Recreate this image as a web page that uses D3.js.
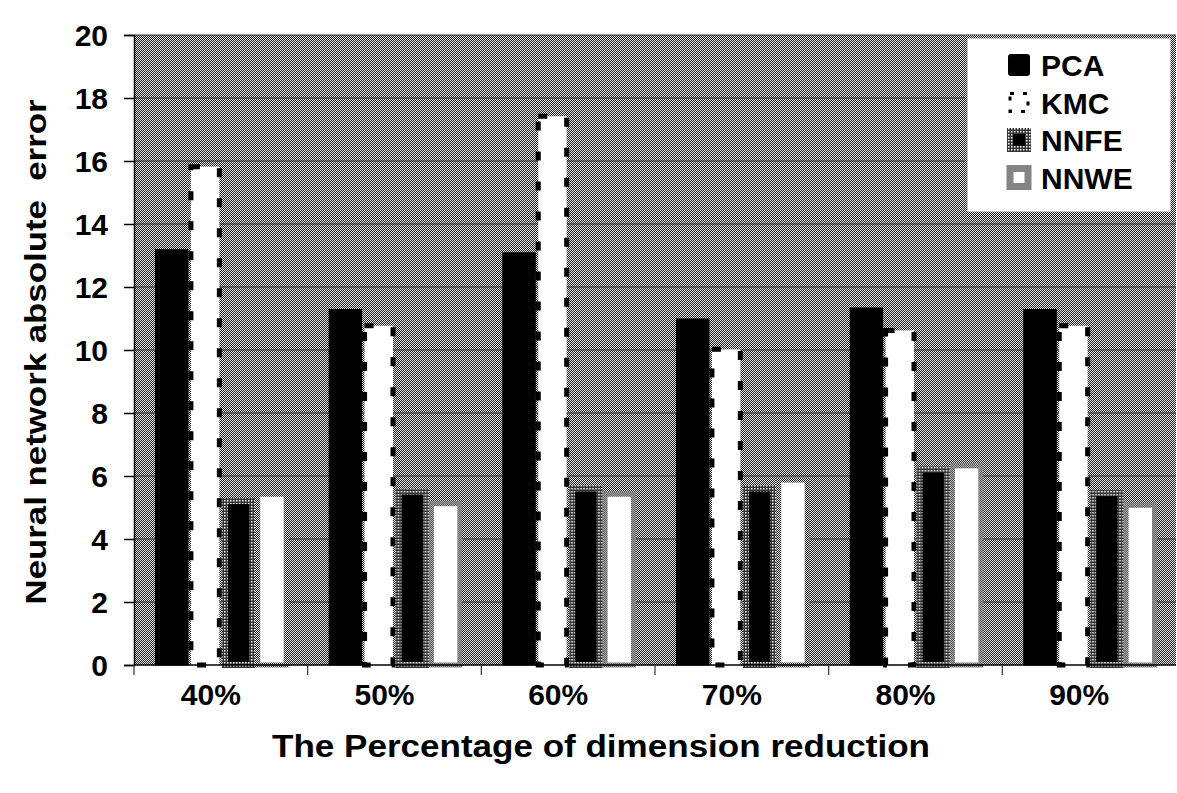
<!DOCTYPE html>
<html lang="en">
<head>
    <meta charset="UTF-8">
    <title>Neural network absolute error by dimension reduction</title>
    <script src="https://d3js.org/d3.v7.min.js"></script>
    <style>
        body { margin: 0; background: #fff; }
        text { font-family: "Liberation Sans", Arial, sans-serif; font-weight: bold; fill: #000; }
    </style>
</head>
<body>
    <svg width="1177" height="793"></svg>
    <script>
        // data
        const categories = ["40%", "50%", "60%", "70%", "80%", "90%"];
        const seriesNames = ["PCA", "KMC", "NNFE", "NNWE"];
        const pcaValues  = [13.2, 11.3, 13.1, 11.0, 11.35, 11.3];
        const kmcValues  = [15.9, 10.85, 17.5, 10.1, 10.7, 10.85];
        const nnfeValues = [5.3, 5.6, 5.7, 5.7, 6.3, 5.55];
        const nnweValues = [5.5, 5.2, 5.5, 5.95, 6.4, 5.15];
        const yTicks = [0, 2, 4, 6, 8, 10, 12, 14, 16, 18, 20];

        const margin = { top: 35, right: 1, bottom: 128, left: 134 };
        const width = 1177 - margin.left - margin.right;
        const height = 793 - margin.top - margin.bottom;

        const svg = d3.select("svg");
        const defs = svg.append("defs");

        // dithered gray texture for the plot background
        const dither = defs.append("pattern")
            .attr("id", "dither")
            .attr("width", 2).attr("height", 2)
            .attr("patternUnits", "userSpaceOnUse");
        dither.append("rect").attr("width", 2).attr("height", 2).attr("fill", "#eeeeee");
        dither.append("rect").attr("width", 1).attr("height", 1).attr("fill", "#1a1a1a");
        dither.append("rect").attr("x", 1).attr("y", 1).attr("width", 1).attr("height", 1).attr("fill", "#1a1a1a");

        // coarser dots for the NNFE outline
        const dots = defs.append("pattern")
            .attr("id", "dots")
            .attr("width", 3).attr("height", 3)
            .attr("patternUnits", "userSpaceOnUse");
        dots.append("rect").attr("width", 3).attr("height", 3).attr("fill", "#333");
        dots.append("rect").attr("width", 1.5).attr("height", 1.5).attr("fill", "#fff");

        const g = svg.append("g")
            .attr("transform", `translate(${margin.left},${margin.top})`);

        const x0 = d3.scaleBand()
            .domain(categories)
            .range([0, width])
            .paddingInner(0)
            .paddingOuter(0);

        const x1 = d3.scaleBand()
            .domain(seriesNames)
            .range([21, x0.bandwidth() - 19])
            .padding(0);

        const y = d3.scaleLinear()
            .domain([0, 20])
            .range([height, 0]);

        // plot background
        g.append("rect")
            .attr("width", width)
            .attr("height", height)
            .attr("fill", "url(#dither)");

        // gridlines
        g.append("g")
            .selectAll("line")
            .data(yTicks.filter(d => d > 0))
            .join("line")
            .attr("x1", 0).attr("x2", width)
            .attr("y1", d => y(d)).attr("y2", d => y(d))
            .attr("stroke", "#333")
            .attr("stroke-width", 1);

        const rows = categories.map((c, i) => ({
            cat: c,
            values: [pcaValues[i], kmcValues[i], nnfeValues[i], nnweValues[i]]
        }));

        const styles = {
            PCA:  { fill: "#000", stroke: "#000", sw: 1, dash: null },
            KMC:  { fill: "#fff", stroke: "#000", sw: 5, dash: "9,21" },
            NNFE: { fill: "#000", stroke: "url(#dots)", sw: 6, dash: null },
            NNWE: { fill: "#fff", stroke: "url(#dither)", sw: 5, dash: null }
        };

        const groups = g.append("g")
            .selectAll("g")
            .data(rows)
            .join("g")
            .attr("transform", d => `translate(${x0(d.cat)},0)`);

        groups.selectAll("rect")
            .data(d => d.values.map((v, i) => ({ name: seriesNames[i], value: v })))
            .join("rect")
            .attr("x", d => x1(d.name) + styles[d.name].sw / 2)
            .attr("width", d => x1.bandwidth() - styles[d.name].sw)
            .attr("y", d => y(d.value) + styles[d.name].sw / 2)
            .attr("height", d => y(0) - y(d.value) - styles[d.name].sw / 2)
            .attr("fill", d => styles[d.name].fill)
            .attr("stroke", d => styles[d.name].stroke)
            .attr("stroke-width", d => styles[d.name].sw)
            .attr("stroke-dasharray", d => styles[d.name].dash);

        // y axis
        const yAxis = g.append("g")
            .call(d3.axisLeft(y).tickValues(yTicks).tickSize(10).tickPadding(16));
        yAxis.select(".domain").attr("stroke", "#000").attr("stroke-width", 1.5);
        yAxis.selectAll(".tick line").attr("stroke", "#000").attr("stroke-width", 1.5);
        yAxis.selectAll(".tick text")
            .attr("dy", "0.36em")
            .style("font-size", "30px")
            .style("font-family", "'Liberation Sans', Arial, sans-serif")
            .style("font-weight", "bold");

        // x axis: ticks sit on the group boundaries
        g.append("line")
            .attr("x1", 0).attr("x2", width)
            .attr("y1", height).attr("y2", height)
            .attr("stroke", "#000").attr("stroke-width", 1.5);

        g.append("g")
            .selectAll("line")
            .data(categories)
            .join("line")
            .attr("x1", d => x0(d)).attr("x2", d => x0(d))
            .attr("y1", height).attr("y2", height + 10)
            .attr("stroke", "#333").attr("stroke-width", 1.2);

        g.append("g")
            .selectAll("text")
            .data(categories)
            .join("text")
            .attr("x", d => x0(d) + x0.bandwidth() / 2 - 10)
            .attr("y", height + 40)
            .attr("text-anchor", "middle")
            .style("font-size", "30px")
            .text(d => d);

        // axis titles
        svg.append("text")
            .attr("x", 601)
            .attr("y", 757)
            .attr("text-anchor", "middle")
            .attr("textLength", 658)
            .attr("lengthAdjust", "spacingAndGlyphs")
            .style("font-size", "32px")
            .text("The Percentage of dimension reduction");

        svg.append("text")
            .attr("transform", `translate(46,${margin.top + height / 2 + 2}) rotate(-90)`)
            .attr("text-anchor", "middle")
            .attr("textLength", 505)
            .attr("lengthAdjust", "spacingAndGlyphs")
            .style("font-size", "30px")
            .style("white-space", "pre")
            .text("Neural network absolute  error");

        // legend
        const legend = svg.append("g")
            .attr("transform", `translate(966,37)`);

        legend.append("rect")
            .attr("width", 206)
            .attr("height", 176)
            .attr("fill", "#fff")
            .attr("stroke", "url(#dither)")
            .attr("stroke-width", 3);

        const legendItems = legend.selectAll("g")
            .data(seriesNames)
            .join("g")
            .attr("transform", (d, i) => `translate(42,${28 + i * 37.5})`);

        legendItems.filter(d => d === "PCA").append("rect")
            .attr("x", 0).attr("y", -11).attr("width", 22).attr("height", 22)
            .attr("rx", 3).attr("fill", "#000");

        legendItems.filter(d => d === "KMC").append("rect")
            .attr("x", 2).attr("y", -9).attr("width", 18).attr("height", 18)
            .attr("fill", "#fff").attr("stroke", "#000").attr("stroke-width", 3)
            .attr("stroke-dasharray", "4,9");

        legendItems.filter(d => d === "NNFE").append("rect")
            .attr("x", 2).attr("y", -9).attr("width", 18).attr("height", 18)
            .attr("fill", "#000").attr("stroke", "url(#dots)").attr("stroke-width", 6);

        legendItems.filter(d => d === "NNWE").append("rect")
            .attr("x", 2).attr("y", -9).attr("width", 18).attr("height", 18)
            .attr("fill", "#fff").attr("stroke", "url(#dither)").attr("stroke-width", 7);

        legendItems.append("text")
            .attr("x", 33)
            .attr("y", 11)
            .style("font-size", "30px")
            .text(d => d);
    </script>
</body>
</html>
